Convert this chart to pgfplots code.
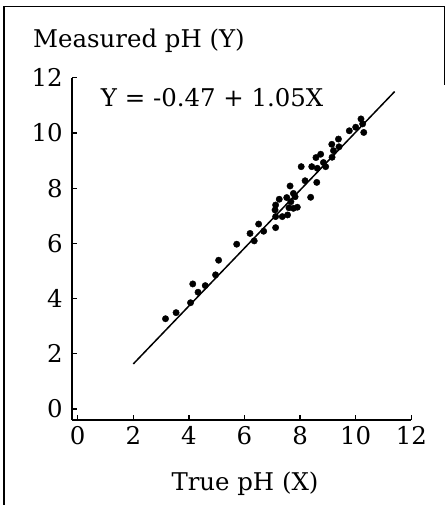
\documentclass[border=0pt]{standalone}
\usepackage{fontspec}
\setmainfont{DejaVu Serif}
\usepackage{pgfplots}
\pgfplotsset{compat=1.18}
\newcommand\bigf{\fontsize{24.5}{29}\selectfont}

\begin{document}
\begin{tikzpicture}
\useasboundingbox (0bp,0bp) rectangle (447bp,505bp);
% outer frame (right side only partly visible in the scan)
\draw[line width=1.4bp] (4bp,0bp) -- (4bp,498.3bp) -- (444.5bp,498.3bp) -- (444.5bp,420bp);

\begin{axis}[
  at={(72.1bp,85bp)}, anchor=south west, scale only axis,
  width=339.2bp, height=342.2bp,
  xmin=-0.2, xmax=12, ymin=-0.4, ymax=12,
  axis x line*=bottom, axis y line*=left,
  axis line style={-, line width=1.5bp},
  tick align=inside, major tick length=4.5bp,
  tick style={line width=1.3bp, black},
  xtick={0,2,...,12}, ytick={0,2,...,12},
  /pgf/number format/assume math mode=true,
  tick label style={font=\bigf},
  xticklabel style={yshift=-3bp}, yticklabel style={xshift=-6bp},
  clip=false,
]
\addplot[black, line width=1.5bp] coordinates {(2,1.63) (11.4,11.5)};
\addplot[only marks, mark=*, mark size=3.2bp, black] coordinates {
(3.16,3.27) (3.54,3.49) (4.06,3.85) (4.14,4.53) (4.33,4.23) (4.59,4.47)
(4.96,4.86) (5.07,5.39) (5.72,5.97) (6.20,6.36) (6.35,6.09) (6.51,6.70)
(6.69,6.44) (7.12,6.57) (7.12,6.97) (7.10,7.21) (7.12,7.39) (7.25,7.60)
(7.36,6.97) (7.52,7.66) (7.55,7.03) (7.60,7.29) (7.64,8.08) (7.67,7.51)
(7.76,7.81) (7.76,7.27) (7.90,7.31) (7.82,7.69) (8.04,8.78) (8.18,8.27)
(8.38,7.67) (8.42,8.78) (8.60,8.21) (8.62,8.72) (8.57,9.11) (8.74,9.23)
(8.84,8.93) (8.92,8.78) (9.15,9.12) (9.14,9.59) (9.20,9.36) (9.38,9.78)
(9.40,9.50) (9.77,10.08) (10.00,10.21) (10.19,10.51) (10.25,10.33) (10.29,10.02)
};
\node[anchor=base west, inner sep=0pt, font=\bigf] at (axis cs:0.83,10.95) {Y = -0.47 + 1.05X};
\end{axis}

\node[anchor=base west, inner sep=0pt, font=\bigf] at (33bp,457bp) {Measured pH (Y)};
\node[anchor=base, inner sep=0pt, font=\bigf] at (245bp,15bp) {True pH (X)};
\end{tikzpicture}
\end{document}
